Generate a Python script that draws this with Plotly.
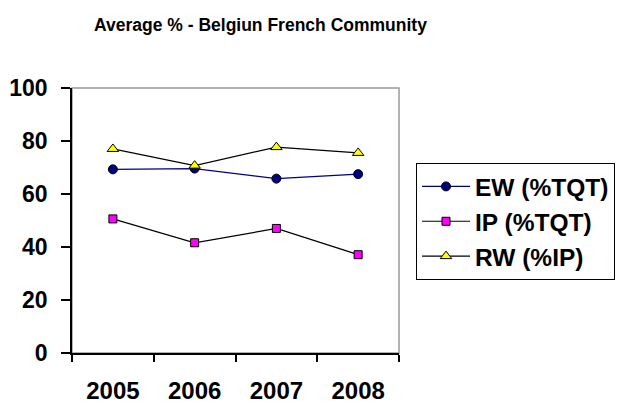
import plotly.graph_objects as go

years = ["2005", "2006", "2007", "2008"]
ew = [69.3, 69.6, 65.8, 67.5]
ip = [50.6, 41.6, 47.0, 37.1]
rw = [77.0, 70.7, 77.7, 75.5]
y_ticks = [0, 20, 40, 60, 80, 100]

font_family = "Liberation Sans, Arial, sans-serif"

fig = go.Figure()
fig.add_trace(go.Scatter(x=years, y=ew, name="EW (%TQT)", mode="lines+markers",
                         line=dict(color="#000080", width=1.2),
                         marker=dict(symbol="circle", size=9, color="#000080",
                                     line=dict(color="black", width=1))))
fig.add_trace(go.Scatter(x=years, y=ip, name="IP (%TQT)", mode="lines+markers",
                         line=dict(color="black", width=1.2),
                         marker=dict(symbol="square", size=8, color="#FF00FF",
                                     line=dict(color="black", width=1))))
fig.add_trace(go.Scatter(x=years, y=rw, name="RW (%IP)", mode="lines+markers",
                         line=dict(color="black", width=1.2),
                         marker=dict(symbol="triangle-up", size=10, color="#FFFF00",
                                     line=dict(color="black", width=1))))

fig.update_layout(
    template="none",
    width=617, height=403,
    margin=dict(l=72, r=218, t=88, b=50, autoexpand=False),
    paper_bgcolor="white", plot_bgcolor="white",
    font=dict(family=font_family, color="black"),
    showlegend=True,
    legend=dict(x=1.052, y=0.717, xanchor="left", yanchor="top",
                bordercolor="black", borderwidth=1, bgcolor="white",
                font=dict(size=24.5, family=font_family, color="black", weight="bold"),
                itemwidth=48, tracegroupgap=0),
    xaxis=dict(type="category", range=[-0.5, len(years) - 0.5],
               showline=True, linecolor="black", linewidth=1.5,
               ticks="outside", tickson="boundaries", ticklen=7, tickcolor="black",
               tickwidth=1.5, automargin=False,
               tickfont=dict(size=24, weight="bold"), ticklabelstandoff=15,
               showgrid=False, zeroline=False),
    yaxis=dict(range=[0, 100], tickvals=y_ticks, showline=True, linecolor="black",
               linewidth=1.5, ticks="outside", ticklen=9, tickcolor="black",
               tickwidth=1.5, automargin=False,
               tickfont=dict(size=23, weight="bold"), ticklabelstandoff=9,
               showgrid=False, zeroline=False),
    shapes=[dict(type="rect", xref="paper", yref="paper", x0=0, y0=0, x1=1, y1=1,
                 line=dict(color="#999999", width=1.5), layer="below")],
    annotations=[dict(text="Average % - Belgiun French Community", xref="paper", yref="paper",
                      x=0.575, y=1.0, yshift=63, yanchor="middle", showarrow=False,
                      font=dict(size=17.5, weight="bold", family=font_family))],
)

fig.write_html("out.html", config={"displayModeBar": False},
               post_script="document.body.style.margin='0';")
